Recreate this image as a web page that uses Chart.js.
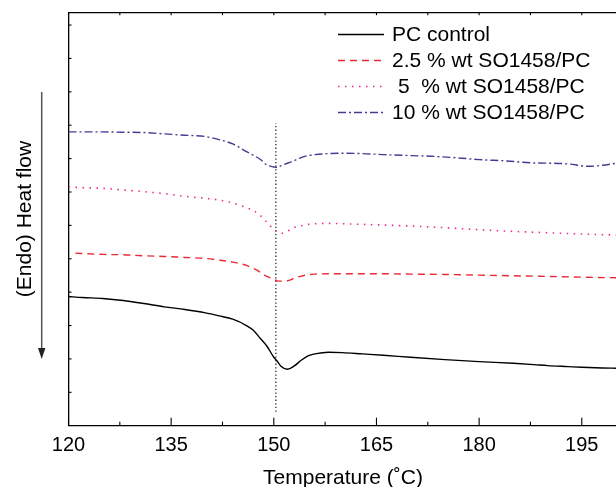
<!DOCTYPE html>
<html>
<head>
<meta charset="utf-8">
<script src="https://cdn.jsdelivr.net/npm/chart.js@4/dist/chart.umd.min.js"></script>
<style>
html,body{margin:0;padding:0;background:#fff;}
#wrap{width:616px;height:487px;position:relative;}
</style>
</head>
<body>
<div id="wrap"><canvas id="c" width="616" height="487"></canvas></div>
<script>
// ---- data ----
const xTickValues = [120, 135, 150, 165, 180, 195];
const seriesNames = ["PC control", "2.5 % wt SO1458/PC", "5  % wt SO1458/PC", "10 % wt SO1458/PC"];

const tempPC = [120,122,125,128,131,134,137,140,142,144,146,147,148,149,150,150.5,151,152,153,154,155,156,158,160,163,166,170,175,180,185,188,190,193,195,198,200];
const valPC  = [3.87,3.84,3.81,3.75,3.66,3.56,3.48,3.38,3.29,3.19,3.00,2.86,2.62,2.38,2.05,1.93,1.79,1.69,1.79,1.96,2.09,2.15,2.20,2.19,2.15,2.11,2.05,1.98,1.92,1.87,1.83,1.80,1.77,1.75,1.73,1.72];

const temp25 = [121,125,128,131,134,137,140,142,144,146,147,148,149,150,150.5,151,152,153,154,155,156,158,160,163,166,170,175,180,185,190,195,200];
const val25  = [5.17,5.13,5.12,5.09,5.07,5.04,5.01,4.96,4.90,4.80,4.71,4.60,4.47,4.39,4.34,4.33,4.34,4.42,4.48,4.52,4.54,4.55,4.55,4.55,4.55,4.54,4.53,4.51,4.49,4.47,4.45,4.43];

const temp5 = [120,122,125,128,131,134,137,140,142,144,146,147,148,149,150,150.5,151,152,153,154,155,156,158,160,163,166,170,175,180,185,190,195,200];
const val5  = [7.15,7.13,7.11,7.06,7.01,6.95,6.87,6.81,6.76,6.67,6.53,6.45,6.30,6.09,5.88,5.82,5.76,5.83,5.94,5.99,6.03,6.05,6.06,6.05,6.03,6.01,5.98,5.93,5.87,5.82,5.78,5.74,5.71];

const temp10 = [120,125,128,131,134,137,140,142,144,146,147,148,149,150,150.5,151,152,153,154,155,156,158,160,163,166,170,173,177,180,184,188,191,193,196,198,200];
const val10  = [8.80,8.80,8.79,8.78,8.74,8.70,8.66,8.57,8.44,8.21,8.10,7.98,7.81,7.75,7.73,7.78,7.86,7.94,8.03,8.09,8.12,8.15,8.16,8.15,8.12,8.09,8.07,8.02,7.97,7.93,7.87,7.86,7.84,7.77,7.80,7.86];

const markerTemp = 150.3;
const markerRange = [0.42, 9.06];

// ---- build ----
const pts = (xs, ys) => xs.map((x, i) => ({x: x, y: ys[i]}));
const styles = [
  {color: '#000000', dash: [], width: 1.4},
  {color: '#ea2a36', dash: [7, 5], width: 1.4},
  {color: '#f0288c', dash: [1.5, 5.5], width: 1.6},
  {color: '#4a3892', dash: [8, 3, 2, 3], width: 1.4}
];
const rawData = [[tempPC, valPC], [temp25, val25], [temp5, val5], [temp10, val10]];

const datasets = rawData.map((d, i) => ({
  label: seriesNames[i],
  data: pts(d[0], d[1]),
  borderColor: styles[i].color,
  borderDash: styles[i].dash,
  borderWidth: styles[i].width,
  pointRadius: 0,
  fill: false,
  cubicInterpolationMode: 'monotone'
}));
datasets.push({
  label: 'marker',
  data: [{x: markerTemp, y: markerRange[0]}, {x: markerTemp, y: markerRange[1]}],
  borderColor: '#000',
  borderDash: [1.3, 2.3],
  borderWidth: 1.1,
  pointRadius: 0,
  fill: false
});

const FONT = '"Liberation Sans", Arial, sans-serif';

const decor = {
  id: 'decor',
  afterDraw(chart) {
    const ctx = chart.ctx, a = chart.chartArea;
    const xs = chart.scales.x, ys = chart.scales.y;
    ctx.save();
    ctx.strokeStyle = '#000';
    ctx.lineWidth = 1.3;
    // top frame line
    ctx.beginPath(); ctx.moveTo(a.left, a.top); ctx.lineTo(a.right, a.top); ctx.stroke();
    // x ticks (inside)
    ctx.lineWidth = 1.1;
    for (let v = 120; v <= 200; v += 7.5) {
      const px = xs.getPixelForValue(v);
      const major = xTickValues.includes(v);
      ctx.beginPath(); ctx.moveTo(px, a.bottom); ctx.lineTo(px, a.bottom - (major ? 8 : 4)); ctx.stroke();
      ctx.beginPath(); ctx.moveTo(px, a.top); ctx.lineTo(px, a.top + 2.5); ctx.stroke();
    }
    // y ticks (inside)
    for (let v = 1; v <= 12; v++) {
      const py = ys.getPixelForValue(v);
      ctx.beginPath(); ctx.moveTo(a.left, py); ctx.lineTo(a.left + 3, py); ctx.stroke();
    }
    // legend
    const rowsY = [34.5, 60.5, 86.5, 112.5];
    ctx.font = '21px ' + FONT;
    ctx.textBaseline = 'middle';
    ctx.textAlign = 'left';
    for (let i = 0; i < 4; i++) {
      ctx.strokeStyle = styles[i].color;
      ctx.lineWidth = styles[i].width;
      ctx.setLineDash(styles[i].dash);
      ctx.beginPath(); ctx.moveTo(338, rowsY[i]); ctx.lineTo(384, rowsY[i]); ctx.stroke();
      ctx.setLineDash([]);
      ctx.fillStyle = '#000';
      ctx.fillText(seriesNames[i], i === 2 ? 398 : 392, rowsY[i] + 1);
    }
    // x title
    ctx.textAlign = 'center';
    ctx.fillText('Temperature (\u02DAC)', 343, 478);
    // y title
    ctx.save();
    ctx.translate(25, 219);
    ctx.rotate(-Math.PI / 2);
    ctx.fillText('(Endo) Heat flow', 0, 0);
    ctx.restore();
    // arrow
    ctx.strokeStyle = '#555';
    ctx.fillStyle = '#222';
    ctx.lineWidth = 1.5;
    ctx.beginPath(); ctx.moveTo(41.7, 92); ctx.lineTo(41.7, 350); ctx.stroke();
    ctx.beginPath(); ctx.moveTo(38, 348); ctx.lineTo(45.4, 348); ctx.lineTo(41.7, 359); ctx.closePath(); ctx.fill();
    ctx.restore();
  }
};

new Chart(document.getElementById('c'), {
  type: 'line',
  data: {datasets: datasets},
  options: {
    responsive: false,
    animation: false,
    layout: {padding: {top: 12.7, right: 0, left: 0, bottom: 0}},
    plugins: {legend: {display: false}, tooltip: {enabled: false}},
    scales: {
      x: {
        type: 'linear', min: 120, max: 200,
        afterBuildTicks: (s) => { s.ticks = xTickValues.map(v => ({value: v})); },
        afterFit: (s) => { s.height = 61.3; },
        grid: {display: false, drawTicks: false},
        border: {display: true, color: '#000', width: 1.3},
        ticks: {color: '#000', font: {family: FONT, size: 20}, padding: 8, maxRotation: 0, autoSkip: false}
      },
      y: {
        type: 'linear', min: 0, max: 12.37,
        afterFit: (s) => { s.width = 68.5; },
        grid: {display: false, drawTicks: false},
        border: {display: true, color: '#000', width: 1.3},
        ticks: {display: false}
      }
    }
  },
  plugins: [decor]
});
</script>
</body>
</html>
